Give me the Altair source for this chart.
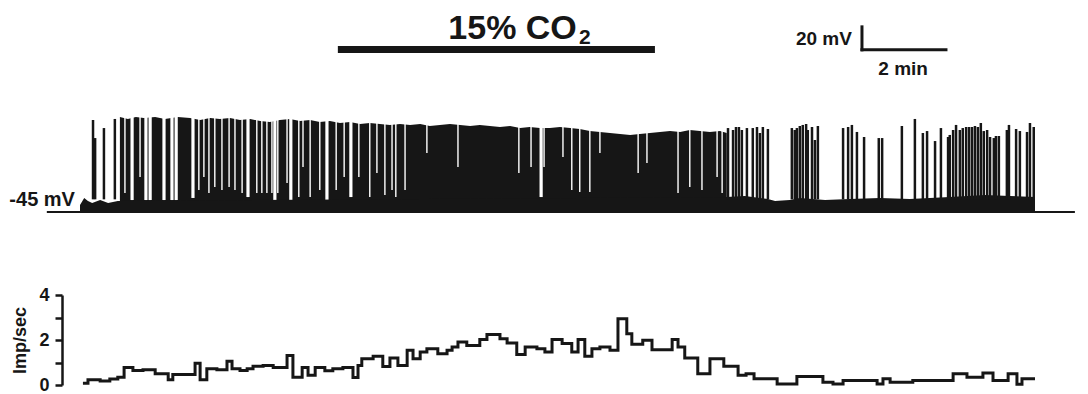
import altair as alt
import pandas as pd

FONT = "Liberation Sans"
INK = "#161616"

# ---------------- firing rate (Imp/sec), step bins, time in minutes ----------------
rate_t = [0.07, 0.19, 0.48, 0.71, 0.90, 1.05, 1.26, 1.50, 1.79, 2.10,
          2.21, 2.74, 2.86, 3.02, 3.26, 3.50, 3.62, 3.81, 3.98, 4.12,
          4.36, 4.60, 4.93, 5.07, 5.29, 5.43, 5.60, 5.83, 6.02, 6.26,
          6.50, 6.62, 6.71, 6.98, 7.21, 7.38, 7.57, 7.79, 7.93, 8.10,
          8.26, 8.52, 8.74, 8.86, 9.00, 9.21, 9.52, 9.69, 10.00, 10.17,
          10.40, 10.60, 10.88, 11.07, 11.24, 11.48, 11.71, 11.86, 12.02, 12.19,
          12.38, 12.62, 12.81, 13.02, 13.14, 13.40, 13.62, 14.10, 14.24, 14.40,
          14.71, 15.00, 15.33, 15.67, 15.86, 16.05, 16.60, 17.07, 17.69, 17.93,
          18.17, 18.98, 19.12, 19.29, 19.83, 20.79, 21.12, 21.50, 21.74, 22.10,
          22.31, 22.43, 22.74]
rate_v = [0.08, 0.23, 0.18, 0.27, 0.35, 0.78, 0.65, 0.68, 0.50, 0.23,
          0.47, 0.97, 0.23, 0.72, 0.68, 1.06, 0.72, 0.65, 0.72, 0.83,
          0.87, 0.78, 1.31, 0.35, 0.78, 0.43, 0.78, 0.63, 0.72, 0.78,
          0.33, 0.87, 1.17, 1.28, 0.82, 1.20, 0.87, 1.54, 1.17, 1.47,
          1.61, 1.39, 1.54, 1.69, 1.91, 1.76, 2.02, 2.25, 2.06, 1.87,
          1.36, 1.69, 1.61, 1.47, 2.02, 1.84, 1.47, 2.02, 1.28, 1.61,
          1.69, 1.54, 2.95, 2.28, 1.81, 1.99, 1.57, 2.02, 1.69, 1.20,
          0.50, 1.17, 0.83, 0.43, 0.50, 0.28, 0.05, 0.38, 0.12, 0.05,
          0.20, 0.05, 0.28, 0.12, 0.20, 0.50, 0.35, 0.53, 0.20, 0.50,
          0.03, 0.28, 0.28]

# ---------------- membrane potential trace (mV) ----------------
# envelope of the densely firing period
block_t = [0.95, 1.14, 1.33, 1.52, 1.79, 2.02, 2.33, 2.62, 2.86, 3.10,
           3.33, 3.57, 3.81, 4.05, 4.29, 4.52, 4.76, 5.00, 5.24, 5.48,
           5.71, 5.95, 6.19, 6.43, 6.67, 6.90, 7.14, 7.38, 7.62, 7.86,
           8.10, 8.33, 8.57, 8.81, 9.05, 9.29, 9.52, 9.76, 10.00, 10.24,
           10.48, 10.71, 10.95, 11.19, 11.43, 11.67, 11.90, 12.14, 12.38, 12.62,
           12.86, 13.10, 13.33, 13.57, 13.81, 14.05, 14.29, 14.52, 14.76, 15.00,
           15.24, 15.40]
block_top = [37.6, 35.9, 37.6, 36.7, 37.6, 35.9, 37.6, 36.7, 35.0, 36.7,
             35.9, 36.7, 35.0, 35.9, 34.1, 33.3, 35.0, 35.9, 34.1, 35.0,
             33.3, 34.1, 32.4, 33.3, 31.5, 32.4, 31.5, 30.7, 31.5, 30.7,
             31.5, 29.8, 30.7, 31.5, 30.7, 29.8, 30.7, 29.8, 28.9, 29.8,
             28.0, 28.9, 28.0, 28.0, 28.9, 28.0, 27.2, 25.4, 24.6, 23.7,
             22.8, 22.0, 22.8, 23.7, 24.6, 25.4, 24.6, 26.3, 25.4, 24.6,
             25.4, 23.7]

# inter-spike pauses visible inside the dense period (time, lowest mV reached)
gapN_t = [1.07, 1.43, 2.83, 2.95, 3.07, 3.21, 3.38, 3.55, 3.69, 3.86,
          4.21, 4.33, 4.45, 4.57, 4.71, 4.93, 5.21, 5.31, 5.48, 5.71,
          6.10, 6.29, 6.64, 6.90, 7.07, 7.26, 7.43, 7.52, 7.74, 8.26,
          9.00, 10.45, 10.74, 11.05, 11.50, 11.71, 11.90, 12.14, 12.38, 13.29,
          13.50, 14.24, 14.52, 14.81, 15.17, 15.29]
gapN_bot = [-28.5, -14.6, -25.9, -14.6, -28.5, -23.3, -25.9, -23.3, -25.9, -28.5,
            -28.5, -28.5, -28.5, -28.5, -28.5, -19.8, -32.0, -5.9, -32.0, -25.9,
            -25.9, -14.6, -14.6, -32.0, -11.1, -30.2, -25.9, -32.0, -25.9, 6.3,
            -5.9, -11.1, -5.9, -5.9, 2.8, -25.9, -27.6, -27.6, 6.3, -11.1,
            -2.4, -28.5, -23.3, -25.9, -14.6, -28.5]
gapW_t = [1.24, 1.57, 1.67, 2.00, 2.19, 2.29, 2.69, 4.00, 4.64, 5.02, 5.88, 6.45, 10.98]
gapW_bot = [-34.6, -34.6, -34.6, -34.6, -34.6, -34.6, -32.8, -32.0, -34.6, -34.6,
            -34.6, -32.0, -32.0]

# individual action potentials in the sparse periods (time, peak mV)
spike_t = [0.31, 0.36, 0.57, 0.83,
           15.43, 15.55, 15.62, 15.69, 15.76, 15.88, 16.02, 16.12, 16.19, 16.26, 16.38,
           16.95, 17.02, 17.07, 17.14, 17.21, 17.29, 17.33, 17.43, 17.50, 17.57,
           18.17, 18.29, 18.38, 18.50, 18.67, 19.02, 19.10,
           19.57, 19.88, 20.07, 20.17, 20.36, 20.50, 20.67, 20.71, 20.79, 20.86,
           20.95, 21.02, 21.10, 21.17, 21.24, 21.31, 21.38, 21.45, 21.52, 21.60,
           21.67, 21.76, 21.81, 21.88, 22.07, 22.12, 22.29, 22.38, 22.55, 22.62, 22.71]
spike_top = [35.0, 19.3, 28.0, 35.9,
             28.0, 26.3, 28.9, 28.9, 26.3, 28.0, 28.0, 28.9, 23.7, 28.9, 27.2,
             28.0, 26.3, 28.0, 29.8, 30.7, 31.5, 26.3, 28.9, 17.6, 29.8,
             28.0, 28.9, 30.7, 24.6, 20.2, 19.3, 19.3,
             29.8, 35.9, 23.7, 25.4, 16.7, 28.0, 20.2, 22.0, 26.3, 30.7,
             26.3, 28.0, 28.9, 28.9, 28.9, 29.8, 28.9, 32.4, 25.4, 26.3,
             20.2, 19.3, 21.1, 21.1, 26.3, 30.7, 27.2, 25.4, 24.6, 32.4, 28.9]

# sub-threshold noise band top (mV)
floor_t = [0.00, 0.10, 0.19, 0.29, 0.48, 0.67, 0.90, 15.40, 15.83, 16.38, 16.55,
           16.90, 17.14, 17.74, 18.33, 19.05, 19.76, 20.71, 21.55, 22.14, 22.74]
floor_mv = [-38.9, -32.8, -35.4, -37.2, -34.6, -37.2, -35.4, -32.0, -31.1, -33.7, -35.4,
            -34.6, -32.8, -34.6, -33.7, -32.8, -33.7, -32.0, -30.2, -31.1, -32.0]

REST_MV = -45.0
SPIKE_BASE = -34.0
BASELINE_SPAN = [-0.79, 23.69]
CO2_SPAN = [6.14, 13.69]
SCALE_T = [18.62, 20.62]   # 2 min
SCALE_MV = [96.0, 116.0]   # 20 mV

# ---------------- scales ----------------
X = alt.Scale(domain=[0, 22.74], range=[72, 1027], nice=False, zero=False)
MV = alt.Scale(domain=[-45, 35], range=[204, 112], nice=False, zero=False)
RATE = alt.Scale(domain=[0, 4], range=[377, 287], nice=False, zero=False)


def xq(f):
    return alt.X(f + ":Q", scale=X, axis=None)


def ymv(f):
    return alt.Y(f + ":Q", scale=MV, axis=None)


block = alt.Chart(pd.DataFrame({"t": block_t, "top": block_top, "base": REST_MV})).mark_area(
    color=INK, interpolate="linear").encode(x=xq("t"), y=ymv("top"), y2="base:Q")

gap_n = alt.Chart(pd.DataFrame({"t": gapN_t, "bot": gapN_bot, "top": 40.0})).mark_rule(
    color="white", strokeWidth=1.4).encode(x=xq("t"), y=ymv("top"), y2="bot:Q")

gap_w = alt.Chart(pd.DataFrame({"t": gapW_t, "bot": gapW_bot, "top": 40.0})).mark_rule(
    color="white", strokeWidth=3.2).encode(x=xq("t"), y=ymv("top"), y2="bot:Q")

floor = alt.Chart(pd.DataFrame({"t": floor_t, "top": floor_mv, "base": REST_MV})).mark_area(
    color=INK, interpolate="linear").encode(x=xq("t"), y=ymv("top"), y2="base:Q")

spikes = alt.Chart(pd.DataFrame({"t": spike_t, "top": spike_top, "base": SPIKE_BASE})).mark_rule(
    color=INK, strokeWidth=2.5).encode(x=xq("t"), y=ymv("top"), y2="base:Q")

baseline = alt.Chart(pd.DataFrame({"t0": [BASELINE_SPAN[0]], "t1": [BASELINE_SPAN[1]], "v": [REST_MV]})).mark_rule(
    color=INK, strokeWidth=2).encode(x=xq("t0"), x2="t1:Q", y=ymv("v"))

co2_bar = alt.Chart(pd.DataFrame({"t0": [CO2_SPAN[0]], "t1": [CO2_SPAN[1]], "v": [96.3]})).mark_rule(
    color=INK, strokeWidth=7).encode(x=xq("t0"), x2="t1:Q", y=ymv("v"))

sb_v = alt.Chart(pd.DataFrame({"t": [SCALE_T[0]], "v0": [SCALE_MV[0]], "v1": [SCALE_MV[1]]})).mark_rule(
    color=INK, strokeWidth=3, strokeCap="square").encode(x=xq("t"), y=ymv("v0"), y2="v1:Q")
sb_h = alt.Chart(pd.DataFrame({"t0": [SCALE_T[0]], "t1": [SCALE_T[1]], "v": [SCALE_MV[0]]})).mark_rule(
    color=INK, strokeWidth=3, strokeCap="square").encode(x=xq("t0"), x2="t1:Q", y=ymv("v"))


def label(text, t, v, size, align):
    return alt.Chart(pd.DataFrame({"t": [t], "v": [v], "s": [text]})).mark_text(
        font=FONT, fontSize=size, fontWeight="bold", color=INK, align=align,
        baseline="alphabetic").encode(x=xq("t"), y=ymv("v"), text="s:N")


txt_co2 = label("15% CO", 11.83, 105.4, 34, "right")
txt_sub = label("2", 11.88, 101.1, 21, "left")
txt_mv = label("20 mV", 18.38, 100.2, 19, "right")
txt_min = label("2 min", 19.60, 74.1, 19, "center")
txt_rest = label("-45 mV", -0.12, -39.8, 20, "right")

rate = alt.Chart(pd.DataFrame({"t": rate_t, "v": rate_v})).mark_line(
    color=INK, strokeWidth=3, interpolate="step-after").encode(
    x=xq("t"),
    y=alt.Y("v:Q", scale=RATE, axis=alt.Axis(
        orient="left", offset=-54, values=[0, 1, 2, 3, 4],
        labelExpr="datum.value % 2 == 0 ? datum.label : ''",
        grid=False, domainColor=INK, domainWidth=2.5, tickColor=INK, tickWidth=2.5,
        tickSize=7, labelFont=FONT, labelFontSize=18, labelFontWeight="bold",
        labelColor=INK, labelPadding=6, title="Imp/sec", titleFont=FONT,
        titleFontSize=18, titleFontWeight="bold", titleColor=INK, titlePadding=9)))

chart = alt.layer(
    block, gap_n, gap_w, floor, spikes, baseline, co2_bar, sb_v, sb_h,
    txt_co2, txt_sub, txt_mv, txt_min, txt_rest, rate
).resolve_scale(y="independent").properties(
    width=1072, height=386, autosize=alt.AutoSizeParams(type="none"), padding=0,
    background="white"
).configure_view(stroke=None)

chart.save("out.html", embed_options={"renderer": "svg", "actions": False})
